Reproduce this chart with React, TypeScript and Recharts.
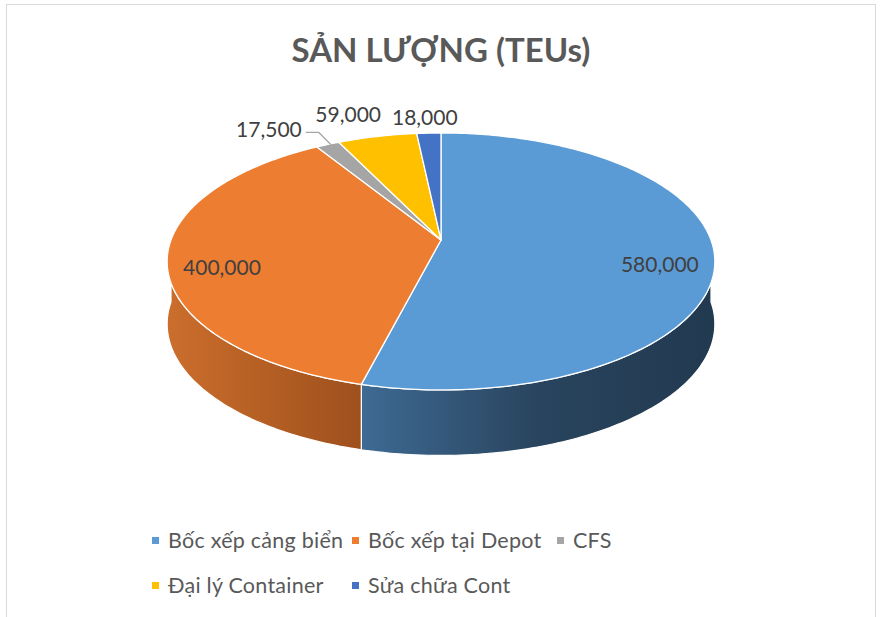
import React from "react";
import { Cell, Legend, Pie, PieChart } from "recharts";

const categories = [
  "Bốc xếp cảng biển",
  "Bốc xếp tại Depot",
  "CFS",
  "Đại lý Container",
  "Sửa chữa Cont",
];
const volumes = [580000, 400000, 17500, 59000, 18000];
const colors = ["#5b9bd5", "#ed7d31", "#a5a5a5", "#ffc000", "#4472c4"];
// side wall shading, light -> dark
const wallShades = [
  ["#3e6a93", "#29445e", "#223a50"],
  ["#cb6e2d", "#b55f24", "#9e501d"],
  ["#868686", "#6e6e6e", "#5a5a5a"],
  ["#c79600", "#a67d00", "#8a6800"],
  ["#3a5da0", "#2e4a80", "#243c68"],
];

const chartData = categories.map((name, i) => ({ name, value: volumes[i] }));

const TILT = 0.4626;
const PERSP = 0.167;
const DEPTH = 62;
const FONT = "Lato, 'Open Sans', sans-serif";

// project a point on the tilted disk with a bit of perspective
function project(cx: number, cy: number, r: number, deg: number) {
  const a = (deg * Math.PI) / 180;
  const p = 1 / (1 + PERSP * Math.sin(a));
  return { x: cx + r * Math.cos(a) * p, y: cy - r * TILT * Math.sin(a) * p, p };
}

function arcPoints(cx: number, cy: number, r: number, from: number, to: number, drop = false) {
  const n = Math.max(2, Math.ceil(Math.abs(from - to)));
  const pts: string[] = [];
  for (let i = 0; i <= n; i++) {
    const ang = from + ((to - from) * i) / n;
    const pt = project(cx, cy, r, ang);
    const h = drop ? DEPTH * Math.pow(pt.p, 0.3) : 0;
    pts.push(`${pt.x.toFixed(2)},${(pt.y + h).toFixed(2)}`);
  }
  return pts;
}

const Slice3D = (props: any) => {
  const { cx, cy, outerRadius, startAngle, endAngle, index } = props;
  const hi = Math.max(startAngle, endAngle);
  const lo = Math.min(startAngle, endAngle);
  const fill = colors[index % colors.length];

  const walls: string[] = [];
  for (const k of [-1, 0, 1]) {
    const a = Math.max(lo, -180 - 360 * k);
    const b = Math.min(hi, -360 * k);
    if (b > a) {
      const top = arcPoints(cx, cy, outerRadius, b, a);
      const bottom = arcPoints(cx, cy, outerRadius, a, b, true);
      walls.push(`M${top.join(" L")} L${bottom.join(" L")} Z`);
    }
  }
  const topArc = arcPoints(cx, cy, outerRadius, hi, lo);
  const topPath = `M${cx},${cy} L${topArc.join(" L")} Z`;
  const gid = `wall-grad-${index}`;
  const shades = wallShades[index % wallShades.length];

  return (
    <g>
      <defs>
        <linearGradient id={gid} x1="0" y1="0" x2="1" y2="0">
          <stop offset="0%" stopColor={shades[0]} />
          <stop offset="50%" stopColor={shades[1]} />
          <stop offset="100%" stopColor={shades[2]} />
        </linearGradient>
      </defs>
      {walls.map((d, i) => (
        <path key={i} d={d} fill={`url(#${gid})`} stroke="#ffffff" strokeWidth={1.2} strokeLinejoin="round" />
      ))}
      <path d={topPath} fill={fill} stroke="#ffffff" strokeWidth={1.3} strokeLinejoin="round" />
    </g>
  );
};

// label nudges for the small slices at the back (keep them apart like Excel)
const outsideNudge: Record<number, [number, number]> = {
  2: [-26, -16],
  3: [-29, -23],
  4: [-4, -17],
};

const renderLabel = (props: any) => {
  const { cx, cy, midAngle, outerRadius, index, value } = props;
  const txt = Number(value).toLocaleString("en-US");
  const style = { fontFamily: FONT, fontSize: 21, fill: "#404040" };
  if (index <= 1) {
    const pt = project(cx, cy, outerRadius * 0.8, midAngle);
    return (
      <text x={pt.x} y={pt.y + 11} textAnchor="middle" dominantBaseline="central" style={style}>
        {txt}
      </text>
    );
  }
  const rim = project(cx, cy, outerRadius, midAngle);
  const [dx, dy] = outsideNudge[index] ?? [0, -17];
  if (index === 2) {
    return (
      <g>
        <polyline
          points={`${rim.x + 3},${rim.y} ${rim.x - 9},${rim.y - 12} ${rim.x - 22},${rim.y - 12}`}
          fill="none"
          stroke="#a6a6a6"
          strokeWidth={1.2}
        />
        <text x={rim.x + dx} y={rim.y + dy} textAnchor="end" dominantBaseline="central" style={style}>
          {txt}
        </text>
      </g>
    );
  }
  return (
    <text x={rim.x + dx} y={rim.y + dy} textAnchor="middle" dominantBaseline="central" style={style}>
      {txt}
    </text>
  );
};

const LegendContent = (props: any) => {
  const payload = [...(props.payload ?? [])].sort(
    (a: any, b: any) => categories.indexOf(a.value) - categories.indexOf(b.value)
  );
  return (
    <div
      style={{
        display: "grid",
        gridTemplateColumns: "200px 205px auto",
        rowGap: 21,
        fontFamily: FONT,
        fontSize: 21.5,
        letterSpacing: 0.25,
        color: "#595959",
      }}
    >
      {payload.map((entry: any, i: number) => (
        <div key={i} style={{ display: "flex", alignItems: "center", height: 24, whiteSpace: "nowrap" }}>
          <span
            style={{
              width: 7,
              height: 7,
              background: colors[categories.indexOf(entry.value)],
              marginRight: 9,
              display: "inline-block",
              flex: "none",
            }}
          />
          <span>{entry.value}</span>
        </div>
      ))}
    </div>
  );
};

export default function App() {
  return (
    <div style={{ position: "absolute", left: 0, top: 0, width: 882, height: 617, background: "#fff" }}>
      <div
        style={{
          position: "absolute",
          left: 6,
          top: 4,
          width: 870,
          height: 640,
          border: "1px solid #d9d9d9",
          boxSizing: "border-box",
        }}
      />
      <div
        style={{
          position: "absolute",
          left: 0,
          top: 29,
          width: 882,
          textAlign: "center",
          fontFamily: FONT,
          fontWeight: 700,
          fontSize: 33,
          lineHeight: "40px",
          color: "#595959",
        }}
      >
        SẢN LƯỢNG (TEUs)
      </div>
      <PieChart
        width={882}
        height={617}
        margin={{ top: 0, right: 0, bottom: 0, left: 0 }}
        style={{ position: "absolute", left: 0, top: 0 }}
      >
        <Pie
          data={chartData}
          dataKey="value"
          nameKey="name"
          cx={441}
          cy={240}
          outerRadius={270}
          startAngle={90}
          endAngle={-270}
          stroke="none"
          isAnimationActive={false}
          shape={Slice3D}
          label={renderLabel}
          labelLine={false}
        >
          {chartData.map((_e, i) => (
            <Cell key={`cell-${i}`} fill={colors[i % colors.length]} />
          ))}
        </Pie>
        <Legend
          content={<LegendContent />}
          wrapperStyle={{ position: "absolute", left: 152, top: 528, width: 620, bottom: "auto" }}
        />
      </PieChart>
    </div>
  );
}
